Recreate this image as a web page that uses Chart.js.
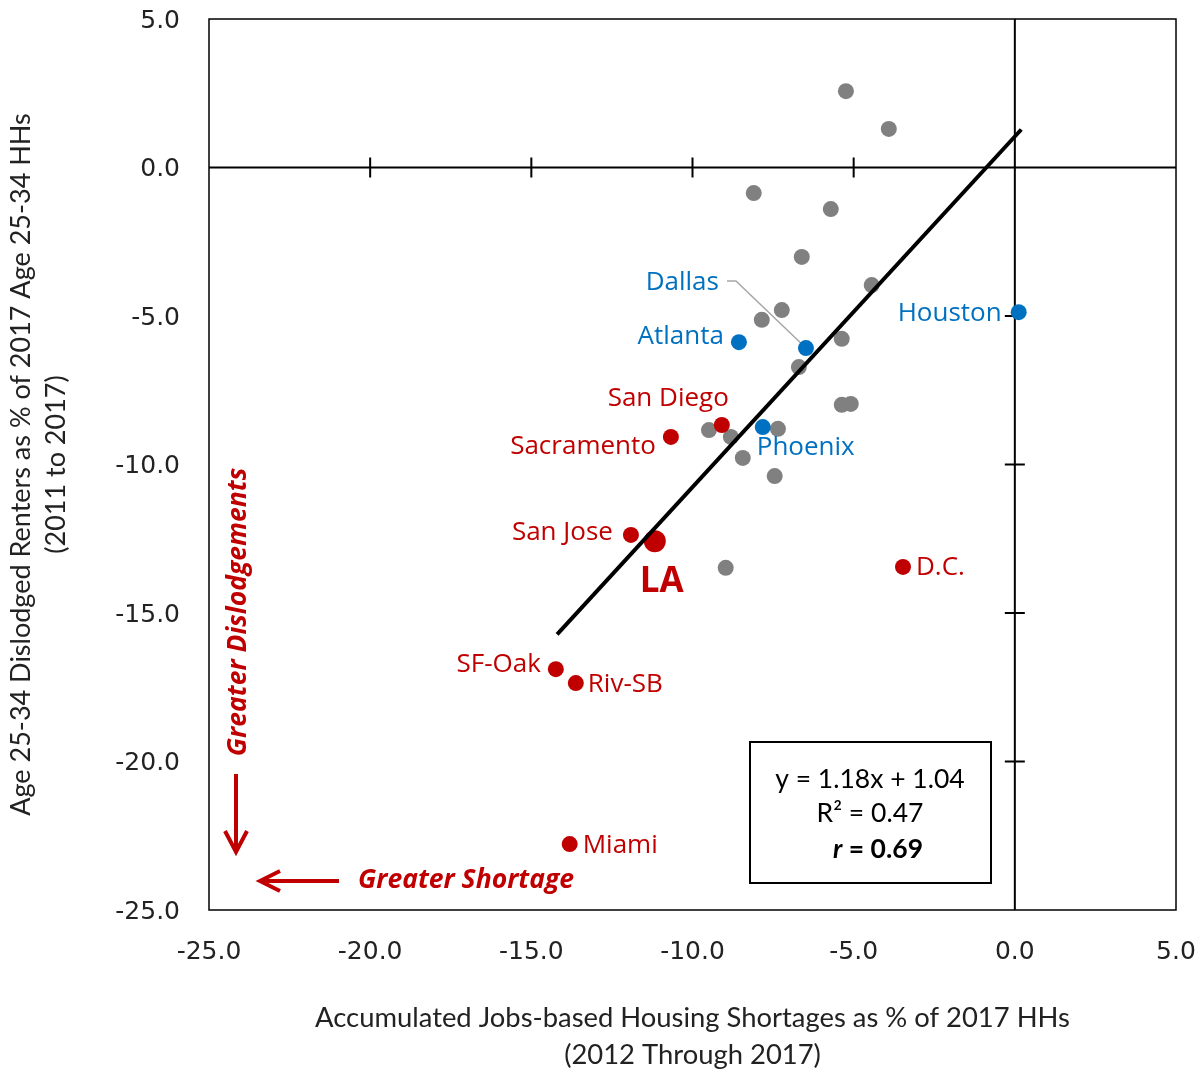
<!DOCTYPE html>
<html><head><meta charset="utf-8">
<script src="https://cdn.jsdelivr.net/npm/chart.js@4.4.1/dist/chart.umd.min.js"></script>
<style>html,body{margin:0;padding:0;background:#fff}#wrap{width:1203px;height:1073px;position:relative}</style>
</head><body><div id="wrap"><canvas id="c"></canvas></div>
<script>
// ---- data ----
const xTicks = [-25, -20, -15, -10, -5, 0, 5];
const yTicks = [5, 0, -5, -10, -15, -20, -25];
const xTitle = ['Accumulated Jobs-based Housing Shortages as % of 2017 HHs', '(2012 Through 2017)'];
const yTitle = ['Age 25-34 Dislodged Renters as % of 2017 Age 25-34 HHs', '(2011 to 2017)'];

const grayX = [-5.24, -3.91, -8.10, -5.71, -6.61, -4.44, -7.23, -7.85, -5.37, -6.70, -5.37, -5.09, -9.49, -7.35, -8.81, -8.44, -7.45, -8.97];
const grayY = [2.57, 1.30, -0.86, -1.40, -3.01, -3.96, -4.80, -5.13, -5.77, -6.72, -7.99, -7.96, -8.84, -8.80, -9.07, -9.78, -10.39, -13.48];

const blueNames = ['Dallas', 'Atlanta', 'Houston', 'Phoenix'];
const blueX = [-6.48, -8.56, 0.12, -7.82];
const blueY = [-6.08, -5.88, -4.87, -8.74];

const redNames = ['San Diego', 'Sacramento', 'San Jose', 'D.C.', 'SF-Oak', 'Riv-SB', 'Miami'];
const redX = [-9.09, -10.67, -11.91, -3.47, -14.24, -13.62, -13.81];
const redY = [-8.67, -9.07, -12.37, -13.45, -16.89, -17.36, -22.78];

const laNames = ['LA'];
const laX = [-11.17];
const laY = [-12.58];

const trendX = [-14.2, 0.2];
const trendY = [-15.72, 1.28];

const eqLines = ['y = 1.18x + 1.04', 'R\u00B2 = 0.47'];
const corrLabel = ['r', ' = 0.69'];
const arrowTexts = ['Greater Dislodgements', 'Greater Shortage'];

// ---- styles ----
const BLUE = '#0070C0', RED = '#C00000', GRAY = '#808080';
const labelFont = '26px "Open Sans"';
// label placement: pixel offsets from the point to the text baseline
const labelPos = {
  'Dallas': {dx: -87, dy: -58, align: 'right'},
  'Atlanta': {dx: -15, dy: 2, align: 'right'},
  'Houston': {dx: -17, dy: 9, align: 'right'},
  'Phoenix': {dx: -6, dy: 28, align: 'left'},
  'San Diego': {dx: 7, dy: -19, align: 'right'},
  'Sacramento': {dx: -15, dy: 17, align: 'right'},
  'San Jose': {dx: -18, dy: 5, align: 'right'},
  'D.C.': {dx: 13, dy: 8, align: 'left'},
  'SF-Oak': {dx: -15, dy: 3, align: 'right'},
  'Riv-SB': {dx: 12, dy: 9, align: 'left'},
  'Miami': {dx: 13, dy: 9, align: 'left'},
  'LA': {dx: 7, dy: 51, align: 'center'}
};

const pts = (xs, ys) => xs.map((v, i) => ({x: v, y: ys[i]}));

const decor = {
  id: 'decor',
  beforeDatasetsDraw(chart) {
    const {ctx, chartArea: a, scales: {x, y}} = chart;
    ctx.save();
    ctx.strokeStyle = '#000';
    ctx.lineWidth = 1.5;
    ctx.strokeRect(a.left, a.top, a.right - a.left, a.bottom - a.top);
    const x0 = x.getPixelForValue(0), y0 = y.getPixelForValue(0);
    ctx.lineWidth = 2;
    ctx.beginPath();
    ctx.moveTo(a.left, y0); ctx.lineTo(a.right, y0);
    ctx.moveTo(x0, a.top); ctx.lineTo(x0, a.bottom);
    x.ticks.forEach(t => {
      if (t.value > x.min && t.value < x.max && t.value !== 0) {
        const p = x.getPixelForValue(t.value);
        ctx.moveTo(p, y0 - 10); ctx.lineTo(p, y0 + 10);
      }
    });
    y.ticks.forEach(t => {
      if (t.value > y.min && t.value < y.max && t.value !== 0) {
        const p = y.getPixelForValue(t.value);
        ctx.moveTo(x0 - 10, p); ctx.lineTo(x0 + 10, p);
      }
    });
    ctx.stroke();
    // Dallas leader line
    const i = blueNames.indexOf('Dallas');
    const px = x.getPixelForValue(blueX[i]), py = y.getPixelForValue(blueY[i]);
    ctx.strokeStyle = '#a6a6a6';
    ctx.lineWidth = 1.5;
    ctx.beginPath();
    ctx.moveTo(px - 79, py - 67);
    ctx.lineTo(px - 70, py - 67);
    ctx.lineTo(px, py);
    ctx.stroke();
    ctx.restore();
  },
  afterDatasetsDraw(chart) {
    const {ctx, chartArea: a, scales: {x, y}} = chart;
    ctx.save();
    const drawLabels = (names, xs, ys, color, font) => {
      names.forEach((n, i) => {
        const p = labelPos[n];
        ctx.font = font;
        ctx.fillStyle = color;
        ctx.textAlign = p.align;
        ctx.textBaseline = 'alphabetic';
        ctx.fillText(n, x.getPixelForValue(xs[i]) + p.dx, y.getPixelForValue(ys[i]) + p.dy);
      });
    };
    drawLabels(blueNames, blueX, blueY, BLUE, labelFont);
    drawLabels(redNames, redX, redY, RED, labelFont);
    drawLabels(laNames, laX, laY, RED, 'bold 35px "Open Sans"');

    // arrows
    ctx.strokeStyle = RED;
    ctx.lineWidth = 4;
    ctx.lineCap = 'butt';
    ctx.lineJoin = 'miter';
    const ax = a.left + 27;
    ctx.beginPath();
    ctx.moveTo(ax, a.top + 755); ctx.lineTo(ax, a.top + 832);
    ctx.moveTo(ax - 11, a.top + 812); ctx.lineTo(ax, a.top + 833); ctx.lineTo(ax + 11, a.top + 812);
    ctx.stroke();
    const ay = a.top + 862;
    ctx.beginPath();
    ctx.moveTo(a.left + 130, ay); ctx.lineTo(a.left + 52, ay);
    ctx.moveTo(a.left + 71, ay - 10); ctx.lineTo(a.left + 51, ay); ctx.lineTo(a.left + 71, ay + 10);
    ctx.stroke();

    ctx.fillStyle = RED;
    ctx.font = 'italic bold 26.5px "Open Sans"';
    ctx.textAlign = 'left';
    ctx.textBaseline = 'alphabetic';
    ctx.fillText(arrowTexts[1], a.left + 149, a.top + 869);
    ctx.save();
    ctx.translate(a.left + 37, a.top + 593);
    ctx.rotate(-Math.PI / 2);
    ctx.textAlign = 'center';
    ctx.fillText(arrowTexts[0], 0, 0);
    ctx.restore();

    // equation box
    ctx.strokeStyle = '#000';
    ctx.lineWidth = 2;
    ctx.strokeRect(a.left + 541, a.top + 723, 241, 141);
    ctx.fillStyle = '#000';
    ctx.textAlign = 'center';
    ctx.font = '26.5px Lato';
    const cx = a.left + 661;
    ctx.fillText(eqLines[0], cx, a.top + 769);
    ctx.fillText(eqLines[1], cx, a.top + 803);
    ctx.font = 'italic bold 26.5px Lato';
    const w1 = ctx.measureText(corrLabel[0]).width;
    ctx.font = 'bold 26.5px Lato';
    const w2 = ctx.measureText(corrLabel[1]).width;
    const sx = cx + 8 - (w1 + w2) / 2;
    ctx.textAlign = 'left';
    ctx.font = 'italic bold 26.5px Lato';
    ctx.fillText(corrLabel[0], sx, a.top + 839);
    ctx.font = 'bold 26.5px Lato';
    ctx.fillText(corrLabel[1], sx + w1, a.top + 839);
    ctx.restore();
  }
};

new Chart(document.getElementById('c'), {
  type: 'scatter',
  data: {
    datasets: [
      {data: pts(trendX, trendY), showLine: true, borderColor: '#000', borderWidth: 4, pointRadius: 0, pointHoverRadius: 0, order: 0},
      {data: pts(laX, laY), backgroundColor: RED, pointRadius: 11, pointHoverRadius: 11, pointBorderWidth: 0, order: 1},
      {data: pts(redX, redY), backgroundColor: RED, pointRadius: 8, pointHoverRadius: 8, pointBorderWidth: 0, order: 2},
      {data: pts(blueX, blueY), backgroundColor: BLUE, pointRadius: 8, pointHoverRadius: 8, pointBorderWidth: 0, order: 3},
      {data: pts(grayX, grayY), backgroundColor: GRAY, pointRadius: 8, pointHoverRadius: 8, pointBorderWidth: 0, order: 4}
    ]
  },
  options: {
    responsive: true,
    maintainAspectRatio: false,
    animation: false,
    layout: {padding: {left: 0, right: 27, top: 19, bottom: 0}},
    plugins: {legend: {display: false}, tooltip: {enabled: false}},
    scales: {
      x: {
        type: 'linear', min: -25, max: 5,
        afterBuildTicks: s => { s.ticks = xTicks.map(v => ({value: v})); },
        afterFit: s => { s.height = 163; s.paddingLeft = 0; s.paddingRight = 0; },
        grid: {display: false, drawTicks: false},
        border: {display: false},
        ticks: {padding: 27, autoSkip: false, maxRotation: 0, color: '#222', font: {family: 'DejaVu Sans', size: 25}, callback: v => Number(v).toFixed(1)},
        title: {display: true, text: xTitle, color: '#222', font: {family: 'Lato', size: 27.4, lineHeight: 1.33}, padding: {top: 0, bottom: 0}}
      },
      y: {
        type: 'linear', min: -25, max: 5,
        afterBuildTicks: s => { s.ticks = yTicks.map(v => ({value: v})); },
        afterFit: s => { s.width = 209; s.paddingTop = 0; s.paddingBottom = 0; },
        grid: {display: false, drawTicks: false},
        border: {display: false},
        ticks: {padding: 29, labelOffset: 2, autoSkip: false, color: '#222', font: {family: 'DejaVu Sans', size: 25}, callback: v => Number(v).toFixed(1)},
        title: {display: true, text: yTitle, color: '#222', font: {family: 'Lato', size: 27, lineHeight: 1.3}, padding: {top: 4, bottom: 0}}
      }
    }
  },
  plugins: [decor]
});
</script>
</body></html>
